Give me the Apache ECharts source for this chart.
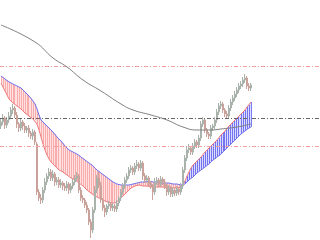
<!DOCTYPE html>
<html><head><meta charset="utf-8">
<script src="https://cdn.jsdelivr.net/npm/echarts@6/dist/echarts.min.js"></script>
<style>html,body{margin:0;padding:0;background:#fff}#c{width:320px;height:240px}</style>
</head><body><div id="c"></div>
<script>
var nSlots = 160;
var categories = [];
for (var k = 0; k < nSlots; k++) categories.push(String(k));

var opens = [114,118,122,115,120,124,130,132,125,116,112,118,114,110,112,107,104,108,96,48,
42,40,50,58,64,68,62,66,58,60,55,57,54,52,56,50,54,58,62,64,
50,42,40,35,30,18,10,30,50,62,55,40,32,28,34,36,32,34,31,37,
42,48,54,60,64,70,72,68,74,76,72,77,64,60,62,56,54,48,58,60,
56,61,58,54,48,52,46,50,47,51,48,54,70,82,90,92,88,94,98,95,
102,116,120,110,106,104,112,114,120,128,134,136,130,126,124,132,138,142,146,150,
154,156,160,162,154,152];
var closes = [118,122,115,120,124,130,132,125,116,112,118,114,110,112,107,104,108,98,48,42,
40,50,58,64,68,62,66,58,60,55,57,54,52,56,50,54,58,62,64,50,
42,40,35,30,18,10,30,50,62,55,40,32,28,34,36,32,34,31,37,42,
48,54,60,64,70,72,68,74,76,72,77,64,60,62,56,54,48,58,60,56,
61,58,54,48,52,46,50,47,51,48,54,70,82,90,92,88,94,98,95,102,
116,120,110,106,104,112,114,120,128,134,136,130,126,124,132,138,142,146,150,154,
156,160,162,154,152,155];
var highs = [121,126,124,123,128,133,136,134,128,118,121,120,117,114,115,109,111,110,98,51,
46,53,62,67,72,71,70,68,63,63,61,59,57,59,58,57,61,65,68,66,
53,45,42,38,32,21,33,54,65,68,58,42,35,36,39,38,37,36,40,44,
51,57,63,67,73,75,74,77,80,78,80,79,67,65,64,59,56,62,63,62,
64,63,61,56,55,54,53,52,54,53,57,73,85,93,96,94,97,101,100,105,
119,123,122,112,108,115,116,123,131,137,139,138,132,129,135,141,145,149,153,157,
159,163,166,164,157,157];
var lows = [111,115,111,112,117,121,126,122,112,108,109,110,107,107,103,101,100,95,45,39,
36,37,47,55,61,59,59,54,55,52,52,50,49,49,46,47,51,55,59,47,
39,37,32,27,15,2,7,27,47,52,37,29,23,25,31,29,29,28,28,34,
39,45,51,57,61,67,65,65,71,69,69,60,57,57,53,51,40,45,55,53,
53,55,51,44,45,43,43,44,44,45,45,51,67,79,87,85,85,91,92,92,
99,113,107,103,101,101,109,111,117,125,131,127,123,121,121,129,135,139,143,147,
151,153,157,151,149,149];

var spanA = [157,153,149,145,141,139,137,136,134,133,
131,129,127,125,124,122,121,120,116,110,
103,96,90,85,81,78,76,74,72,70,
69,68,66,65,64,62,61,60,59,57,
56,54,52,50,48,47,45,44,43,42,
41,40,39,38,37,37,37,37,38,40,
42,44,46,48,50,52,53,54,55,55,
55,54,54,54,54,53,53,53,53,53,
53,53,52,52,52,52,52,52,52,52,
53,55,59,64,68,72,75,77,79,81,
83,85,88,90,92,94,96,98,100,102,
105,107,109,111,114,116,118,120,122,124,
126,128,130,133,135,138];
var spanB = [164,163,161,160,158,157,156,155,154,153,
152,150,148,146,144,142,139,136,131,125,
120,118,116,114,112,110,108,106,103,101,
99,97,94,92,90,89,88,87,86,85,
83,82,80,78,77,76,74,72,70,69,
67,65,64,62,61,60,58,57,56,55,
55,55,55,55,55,55,56,56,57,58,
58,58,58,59,59,58,58,58,58,58,
57,57,57,57,57,57,56,56,56,55,
55,55,56,58,60,62,63,65,67,69,
70,72,73,75,76,78,80,81,83,84,
86,88,90,92,94,96,98,100,102,104,
106,108,109,111,112,113];

var maIdx = [0,17,26,33,41,50,60,66,75,83,91,98,105,110,118,125];
var maVal = [215,198,182,173,160,149,136,130,125,120,113,110,110,111,113,116];

var levelUpper = 174, levelMid = 122, levelLower = 94;

var candleData = [], base = [], redPart = [], bluePart = [], hatch = [], maData = [];
for (var i = 0; i < closes.length; i++) {
  candleData.push([opens[i], closes[i], lows[i], highs[i]]);
}
for (var j = 0; j < spanA.length; j++) {
  base.push(Math.min(spanA[j], spanB[j]));
  redPart.push(Math.max(spanB[j] - spanA[j], 0));
  bluePart.push(Math.max(spanA[j] - spanB[j], 0));
  hatch.push([j, spanA[j], spanB[j]]);
}
for (var m = 0; m < maIdx.length; m++) maData.push([maIdx[m], maVal[m]]);

function renderHatch(params, api) {
  var a = api.coord([api.value(0), api.value(1)]);
  var b = api.coord([api.value(0), api.value(2)]);
  var x = Math.floor(a[0]) + 0.5;
  var isRed = api.value(2) > api.value(1);
  return {
    type: 'line',
    shape: {x1: x, y1: a[1], x2: x, y2: b[1]},
    style: {stroke: isRed ? 'rgba(242,130,130,0.55)' : 'rgba(90,90,240,0.8)', lineWidth: 1}
  };
}

var chart = echarts.init(document.getElementById('c'), null, {renderer: 'canvas'});
var dashDot = [4, 2, 1, 2];
chart.setOption({
  animation: false,
  backgroundColor: '#ffffff',
  grid: {left: 0, right: 0, top: 0, bottom: 0},
  xAxis: {type: 'category', data: categories, boundaryGap: true, show: false},
  yAxis: {type: 'value', min: 0, max: 240, show: false, splitLine: {show: false}},
  series: [
    {type: 'line', data: base, stack: 'fill', symbol: 'none', lineStyle: {width: 0, opacity: 0}, z: 1, silent: true},
    {type: 'line', data: redPart, stack: 'fill', symbol: 'none', lineStyle: {width: 0, opacity: 0},
     areaStyle: {color: 'rgba(255,200,200,0.55)', opacity: 1}, z: 1, silent: true},
    {type: 'line', data: bluePart, stack: 'fill', symbol: 'none', lineStyle: {width: 0, opacity: 0},
     areaStyle: {color: 'rgba(195,195,255,0.6)', opacity: 1}, z: 1, silent: true},
    {type: 'custom', data: hatch, renderItem: renderHatch, z: 2, silent: true,
     encode: {x: 0, y: [1, 2]}},
    {type: 'line', data: spanA, symbol: 'none', lineStyle: {color: '#f07878', width: 1}, z: 3, silent: true},
    {type: 'line', data: spanB, symbol: 'none', lineStyle: {color: '#7474f0', width: 1}, z: 3, silent: true},
    {type: 'candlestick', data: candleData, barWidth: 1.6, z: 4, silent: true,
     itemStyle: {color: '#6f9a7a', color0: '#c46a5a', borderColor: '#a9b3ab', borderColor0: '#c9a39b', borderWidth: 1},
     markLine: {silent: true, symbol: 'none', label: {show: false},
       data: [
         {yAxis: levelUpper, lineStyle: {color: '#f4a0a0', type: dashDot, width: 1}},
         {yAxis: levelMid, lineStyle: {color: '#666666', type: dashDot, width: 1}},
         {yAxis: levelLower, lineStyle: {color: '#f4a0a0', type: dashDot, width: 1}}
       ]}},
    {type: 'line', data: maData, smooth: true, symbol: 'none', lineStyle: {color: '#808080', width: 1}, z: 5, silent: true}
  ]
});
</script>
</body></html>
